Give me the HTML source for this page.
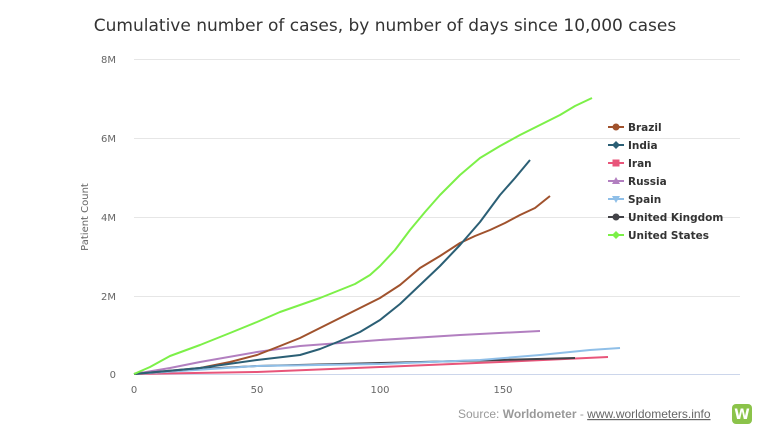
<!DOCTYPE html>
<html><head><meta charset="utf-8"><style>
body{margin:0;background:#fff;width:770px;height:432px;overflow:hidden;font-family:"Liberation Sans",sans-serif}
</style></head><body>
<svg width="770" height="432" xmlns="http://www.w3.org/2000/svg" font-family="DejaVu Sans, Liberation Sans, sans-serif">
<text x="385" y="31" text-anchor="middle" font-size="17" fill="#333">Cumulative number of cases, by number of days since 10,000 cases</text>
<g stroke="#e6e6e6" stroke-width="1">
<line x1="134" x2="740" y1="59.5" y2="59.5"/><line x1="134" x2="740" y1="138.5" y2="138.5"/>
<line x1="134" x2="740" y1="217.5" y2="217.5"/><line x1="134" x2="740" y1="296.5" y2="296.5"/>
</g>
<line x1="134" x2="740" y1="374.5" y2="374.5" stroke="#ccd6eb"/>
<g font-size="10" fill="#666" text-anchor="end">
<text x="116" y="63">8M</text><text x="116" y="142">6M</text><text x="116" y="221">4M</text><text x="116" y="300">2M</text><text x="116" y="378">0</text>
</g>
<g font-size="10" fill="#666" text-anchor="middle">
<text x="134" y="393">0</text><text x="257" y="393">50</text><text x="380" y="393">100</text><text x="503" y="393">150</text>
</g>
<text transform="translate(88,217) rotate(-90)" font-size="10" fill="#666" text-anchor="middle">Patient Count</text>
<g fill="none" stroke-width="2" stroke-linejoin="round">
<polyline stroke="#e8557a" points="134,374 257,372 380,367 500,362 608,357"/>
<polyline stroke="#434348" points="134,374 200,369 257,366 380,363 500,360 575,358"/>
<polyline stroke="#8fbfe8" points="134,374 257,366 380,364 480,360 540,355 590,350 620,348"/>
<polyline stroke="#b27fc0" points="134,374 170,368 200,362 257,352 300,346 380,340 460,335 540,331"/>
<polyline stroke="#a0522d" points="134,374 200,368 230,362 257,355 280,346 300,338 320,328 340,318 360,308 380,298 400,285 420,268 440,256 460,243 475,236 490,230 505,223 520,215 535,208 550,196"/>
<polyline stroke="#2b5f75" points="134,374 200,368 257,360 300,355 320,349 340,341 360,332 380,320 400,304 420,285 440,266 460,245 480,222 500,195 515,178 530,160"/>
<polyline stroke="#7cf048" points="134,374 150,367 170,356 200,345 230,333 257,322 280,312 300,305 320,298 340,290 355,284 370,275 380,266 395,250 410,230 425,212 440,195 460,175 480,158 500,146 520,135 540,125 560,115 575,106 592,98"/>
</g>
<g font-size="10.5" font-weight="bold" fill="#333">
<g transform="translate(608,127)"><line x1="0" x2="16" stroke="#a0522d" stroke-width="2"/><circle cx="8" r="3.5" fill="#a0522d"/><text x="20" y="4">Brazil</text></g>
<g transform="translate(608,145)"><line x1="0" x2="16" stroke="#2b5f75" stroke-width="2"/><path d="M8,-4L12,0L8,4L4,0Z" fill="#2b5f75"/><text x="20" y="4">India</text></g>
<g transform="translate(608,163)"><line x1="0" x2="16" stroke="#e8557a" stroke-width="2"/><rect x="4.5" y="-3.5" width="7" height="7" fill="#e8557a"/><text x="20" y="4">Iran</text></g>
<g transform="translate(608,181)"><line x1="0" x2="16" stroke="#b27fc0" stroke-width="2"/><path d="M8,-4L12,3L4,3Z" fill="#b27fc0"/><text x="20" y="4">Russia</text></g>
<g transform="translate(608,199)"><line x1="0" x2="16" stroke="#8fbfe8" stroke-width="2"/><path d="M8,4L12,-3L4,-3Z" fill="#8fbfe8"/><text x="20" y="4">Spain</text></g>
<g transform="translate(608,217)"><line x1="0" x2="16" stroke="#434348" stroke-width="2"/><circle cx="8" r="3.5" fill="#434348"/><text x="20" y="4">United Kingdom</text></g>
<g transform="translate(608,235)"><line x1="0" x2="16" stroke="#7cf048" stroke-width="2"/><path d="M8,-4L12,0L8,4L4,0Z" fill="#7cf048"/><text x="20" y="4">United States</text></g>
</g>
<text x="458" y="418" font-family="Liberation Sans, sans-serif" font-size="12" fill="#999">Source: <tspan font-weight="bold">Worldometer</tspan> - <tspan fill="#666" text-decoration="underline">www.worldometers.info</tspan></text>
<rect x="732" y="404" width="20" height="20" rx="4" fill="#8bc34a"/>
<text x="742" y="419" text-anchor="middle" font-size="14" font-weight="bold" fill="#fff">W</text>
</svg>
</body></html>
